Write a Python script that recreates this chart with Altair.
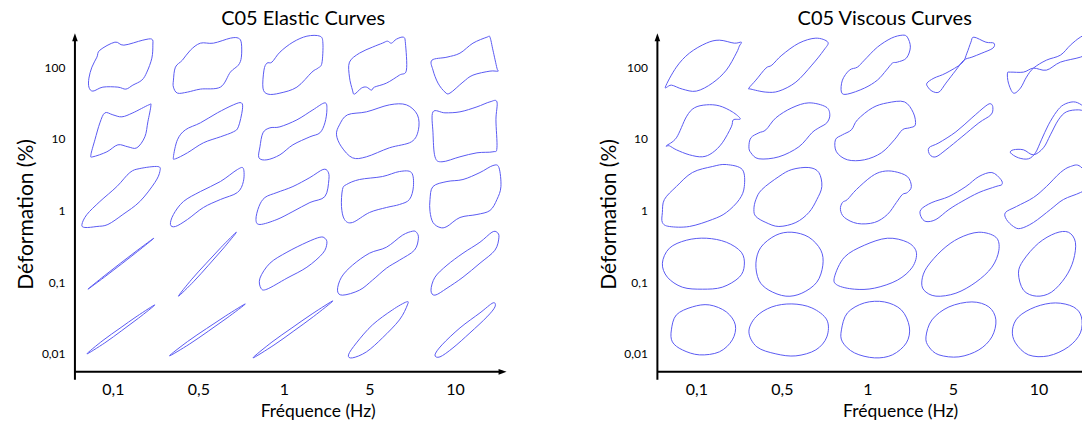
import json
import altair as alt
import pandas as pd

FREQ_LABELS = ["0,1", "0,5", "1", "5", "10"]
DEF_LABELS = ["0,01", "0,1", "1", "10", "100"]
TITLES = ["C05 Elastic Curves", "C05 Viscous Curves"]
X_TITLE = "Fréquence (Hz)"
Y_TITLE = "Déformation (%)"

# Each curve: outline points, as offsets (in reference pixels)
# from its (frequency tick, deformation tick) crossing: dx to the right, dy upward.
E_100 = [
    [(-13, 17), (2, 25), (11, 22), (30, 27), (39, 28), (40, 22), (39, 9), (34, -5), (29, -13), (20, -18),
     (13, -22), (5, -20), (-10, -20), (-20, -24), (-24, -20), (-24, -11), (-21, 0), (-16, 10)],
    [(-25, -13), (-23, 0), (-16, 7), (-8, 17), (2, 24), (15, 24), (32, 29), (40, 29), (43, 24), (43, 10),
     (40, 2), (32, -5), (22, -20), (2, -22), (-11, -25), (-21, -26), (-25, -20)],
    [(36, 31), (39, 24), (38, 4), (34, -1), (28, -5), (13, -20), (-4, -26), (-16, -27), (-21, -21), (-20, -3),
     (-17, 4), (-12, 5), (-4, 15), (9, 25), (23, 31)],
    [(-20, 5), (-10, 14), (3, 20), (13, 24), (18, 26), (22, 24), (27, 28), (34, 30), (36, 24), (37, -3),
     (30, -8), (17, -16), (5, -20), (2, -23), (-3, -20), (-8, -21), (-15, -27), (-17, -23), (-20, -10)],
    [(-23, 7), (-8, 10), (5, 14), (18, 24), (32, 30), (35, 30), (38, 17), (42, -1), (43, -4), (35, -4),
     (18, -8), (8, -15), (-5, -26), (-10, -25), (-17, -16), (-22, -3)],
]
E_10 = [
    [(-8, 26), (0, 24), (9, 22), (20, 26), (36, 34), (38, 33), (35, 17), (32, 2), (24, -9), (15, -8),
     (5, -6), (-6, -13), (-20, -18), (-22, -16), (-18, -1), (-13, 16)],
    [(-25, -18), (-21, -1), (-13, 9), (2, 16), (19, 26), (35, 34), (43, 36), (44, 29), (40, 12), (35, 7),
     (22, 2), (5, -4), (-11, -14), (-23, -20)],
    [(41, 36), (43, 29), (41, 16), (36, 6), (26, 2), (9, -6), (-4, -16), (-17, -21), (-25, -19), (-24, -8),
     (-21, 6), (-14, 11), (-4, 12), (13, 19), (29, 29)],
    [(-30, 14), (-22, 24), (-3, 27), (20, 34), (37, 34), (48, 24), (49, 9), (42, -3), (20, -9), (-3, -18),
     (-17, -19), (-28, -8), (-33, 4)],
    [(-22, 27), (-10, 26), (5, 27), (22, 32), (35, 37), (42, 37), (41, 19), (42, -9), (38, -13), (22, -14),
     (5, -18), (-13, -23), (-20, -18), (-22, 6)],
]
E_1 = [
    [(-31, -14), (-26, -4), (-13, 9), (4, 24), (17, 38), (27, 42), (45, 44), (47, 39), (42, 28), (27, 9),
     (10, -4), (-5, -14), (-16, -16), (-28, -17)],
    [(-28, -14), (-25, -4), (-15, 9), (2, 19), (22, 29), (39, 41), (45, 42), (45, 29), (39, 18), (22, 11),
     (5, 3), (-11, -9), (-23, -16)],
    [(44, 39), (45, 31), (41, 14), (26, 8), (9, -1), (-7, -9), (-24, -14), (-28, -9), (-25, 4), (-19, 13),
     (-7, 18), (9, 24), (26, 33), (39, 41)],
    [(-27, 21), (-23, 26), (-10, 31), (13, 34), (30, 39), (42, 38), (44, 24), (40, 11), (30, 6), (17, 3),
     (0, -2), (-17, -12), (-25, -9), (-28, 4)],
    [(-25, 11), (-22, 24), (-8, 29), (8, 31), (25, 38), (38, 45), (44, 43), (46, 24), (42, 11), (35, 0),
     (22, -4), (5, -7), (-8, -16), (-15, -17), (-22, -12), (-25, -1)],
]
E_01 = [
    [(-25, -7), (-8.8, 6.2), (7.6, 19.0), (24.2, 31.7), (41, 44), (24.8, 30.8), (8.4, 18.0), (-8.2, 5.3)],
    [(-20, -14), (-6.6, 3), (7.9, 19), (22.6, 34.8), (38, 50), (24.4, 33.2), (10.1, 17), (-4.4, 1)],
    [(41, 44), (43, 39), (39, 29), (23, 15), (3, 4), (-17, -7), (-23, -6), (-24, 4), (-14, 19), (3, 30),
     (23, 40), (36, 45)],
    [(47, 50), (49, 44), (45, 32), (30, 22), (17, 14), (3, 2), (-10, -8), (-27, -13), (-32, -8), (-28, 5),
     (-17, 17), (0, 29), (17, 35), (33, 47), (43, 51)],
    [(42, 50), (44, 45), (40, 32), (25, 19), (8, 5), (-8, -6), (-20, -13), (-24, -8), (-20, 5), (-8, 17),
     (8, 29), (25, 40), (37, 50)],
]
E_001 = [
    [(-26, 0), (-9.9, 13.5), (7.1, 25.7), (24.3, 37.8), (42, 49), (25.7, 35.8), (8.9, 23.3), (-8.1, 11)],
    [(-29, -2), (-10.9, 12.3), (8.1, 25.3), (27.3, 38), (47, 50), (28.7, 36), (9.9, 22.7), (-9.1, 9.7)],
    [(-31, -4), (-12, 11.8), (8, 26), (28.2, 40), (49, 53), (29.8, 37.5), (10, 23), (-10, 8.8)],
    [(37, 52), (38, 49), (30, 34), (13, 16), (-3, 2), (-17, -4), (-21, -1), (-13, 11), (3, 29), (23, 44)],
    [(38, 51), (40, 47), (32, 37), (15, 21), (-2, 6), (-15, -3), (-20, -1), (-13, 9), (5, 26), (25, 41)],
]

V_100 = [
    [(-31, -20), (-20, 0), (-7, 14), (10, 24), (23, 27), (38, 24), (45, 25), (43, 21), (40, 14), (30, -3),
     (16, -16), (0, -24), (-14, -22), (-25, -18)],
    [(-33, -21), (-26, -13), (-16, -1), (-10, 2), (0, 12), (17, 24), (34, 29), (46, 25), (42, 17), (30, 2),
     (14, -15), (-3, -24), (-16, -25), (-31, -22)],
    [(40, 30), (43, 20), (39, 9), (30, 5), (25, 4), (19, -3), (10, -13), (-3, -21), (-20, -27), (-26, -25),
     (-25, -13), (-18, -3), (-10, 0), (-3, 7), (10, 20), (24, 29), (35, 32)],
    [(21, 30), (33, 25), (41, 24), (40, 19), (29, 14), (19, 10), (11, 7), (3, -3), (-7, -16), (-14, -25),
     (-21, -24), (-25, -20), (-26, -16), (-19, -11), (-7, -6), (9, 4), (14, 14), (18, 25)],
    [(-31, -6), (-30, -16), (-25, -26), (-18, -21), (-12, -10), (-5, -1), (8, 7), (22, 12), (32, 22), (42, 30),
     (52, 34), (58, 27), (50, 15), (42, 10), (22, 5), (8, -3), (-5, -1), (-15, -5), (-28, -5)],
]
V_10 = [
    [(-30, -7), (-20, 1), (-10, 22), (-2, 31), (10, 34), (23, 33), (36, 27), (44, 20), (37, 19), (35, 12),
     (26, -4), (16, -14), (6, -18), (-7, -16), (-20, -11), (-27, -7)],
    [(-33, -8), (-31, 1), (-23, 6), (-16, 9), (-6, 21), (10, 31), (27, 36), (44, 32), (48, 24), (45, 16),
     (37, 11), (30, 6), (17, -8), (-3, -18), (-23, -20), (-31, -14)],
    [(37, 37), (46, 26), (48, 14), (42, 11), (35, 9), (27, -1), (14, -14), (-3, -21), (-20, -21), (-31, -13),
     (-32, -1), (-25, 4), (-16, 9), (-10, 19), (5, 31), (20, 36)],
    [(38, 35), (40, 31), (38, 24), (26, 16), (9, 2), (-7, -11), (-17, -18), (-23, -16), (-24, -9), (-14, -4),
     (3, 7), (19, 21), (33, 33)],
    [(-28, -14), (-20, -19), (-10, -20), (-3, -14), (3, -1), (10, 14), (18, 27), (25, 34), (35, 37), (43, 34),
     (50, 27), (40, 29), (28, 27), (20, 19), (12, 4), (5, -9), (-5, -16), (-15, -11), (-25, -11)],
]
V_1 = [
    [(-32, 11), (-20, 24), (-4, 38), (16, 44), (30, 46), (46, 41), (48, 24), (43, 11), (30, -2), (16, -9),
     (-7, -16), (-27, -16), (-34, -12), (-34, -2)],
    [(-26, 11), (-20, 21), (-3, 34), (10, 41), (27, 43), (37, 38), (40, 24), (35, 11), (27, -2), (14, -12),
     (-3, -16), (-16, -12), (-26, -6), (-28, 1)],
    [(27, 39), (40, 34), (44, 24), (40, 18), (35, 16), (29, 8), (20, -4), (7, -12), (-10, -13), (-23, -7),
     (-27, 1), (-25, 8), (-20, 11), (-11, 21), (4, 34), (15, 39)],
    [(48, 31), (49, 26), (43, 24), (26, 18), (9, 9), (-4, 1), (-17, -9), (-27, -11), (-32, -6), (-32, 1),
     (-21, 8), (-4, 14), (13, 24), (26, 34), (39, 38)],
    [(42, 44), (32, 44), (22, 38), (8, 24), (-5, 13), (-22, 4), (-33, -2), (-32, -9), (-25, -16), (-18, -18),
     (-5, -12), (12, 1), (25, 11), (42, 18), (55, 26)],
]
V_01 = [
    [(-34, 19), (-27, 34), (-10, 42), (10, 44), (30, 40), (45, 30), (48, 17), (43, 5), (26, -5), (6, -7),
     (-14, -5), (-29, 5)],
    [(-26, 19), (-21, 35), (-6, 47), (10, 50), (27, 45), (39, 32), (41, 17), (35, 0), (20, -11), (4, -14),
     (-13, -8), (-23, 2)],
    [(-33, 5), (-23, 25), (-3, 37), (20, 44), (40, 40), (49, 30), (45, 15), (30, 2), (7, -6), (-13, -7),
     (-30, -3)],
    [(-31, 2), (-26, 15), (-11, 32), (6, 44), (26, 50), (43, 45), (46, 32), (39, 15), (23, 0), (3, -11),
     (-17, -14), (-29, -8)],
    [(-20, 9), (-15, 22), (0, 39), (17, 49), (30, 50), (37, 40), (35, 22), (27, 5), (13, -10), (-2, -14),
     (-15, -8)],
]
V_001 = [
    [(-25, 24), (-20, 39), (-4, 47), (13, 49), (30, 42), (39, 29), (36, 14), (23, 2), (3, -1), (-14, 4),
     (-24, 12)],
    [(-33, 22), (-26, 37), (-10, 47), (10, 50), (30, 46), (45, 34), (45, 17), (34, 4), (14, -2), (-6, 0),
     (-25, 7)],
    [(-26, 24), (-20, 41), (-3, 51), (17, 52), (34, 44), (42, 27), (39, 11), (25, -1), (7, -4), (-13, 1),
     (-25, 12)],
    [(-27, 17), (-21, 34), (-4, 47), (19, 52), (36, 47), (43, 34), (39, 17), (26, 4), (6, -3), (-14, -1),
     (-24, 7)],
    [(-26, 24), (-20, 37), (-3, 47), (17, 51), (35, 47), (43, 37), (42, 21), (30, 7), (10, -2), (-10, -1),
     (-23, 11)],
]

# deformation row index (0 = "0,01" ... 4 = "100") for each list
ELASTIC = [(4, E_100), (3, E_10), (2, E_1), (1, E_01), (0, E_001)]
VISCOUS = [(4, V_100), (3, V_10), (2, V_1), (1, V_01), (0, V_001)]

# scale calibration: reference pixels per category step
PX_PER_FREQ = 85.6
PX_PER_DEF = 71.75

BLUE = "#5a5af2"
FONT = "Lato"


def to_frame(rows):
    recs = []
    for r, row in rows:
        for c, pts in enumerate(row):
            cid = f"{c}-{r}"
            for k, (dx, dy) in enumerate(pts):
                recs.append({"curve": cid, "k": k,
                             "x": c + dx / PX_PER_FREQ,
                             "y": r + dy / PX_PER_DEF})
    return pd.DataFrame(recs)


def label_expr(labels):
    return json.dumps(labels) + "[datum.value]"


ONE = pd.DataFrame({"k": [0]})


def panel(df, title, xdom, width, height, title_dx, x_arrow):
    xs = alt.Scale(domain=xdom, nice=False, zero=False)
    ys = alt.Scale(domain=[-0.3624, 4.5436], nice=False, zero=False)
    curves = alt.Chart(df).mark_line(
        interpolate="cardinal-closed", color=BLUE, strokeWidth=1, clip=True
    ).encode(
        x=alt.X("x:Q", scale=xs, axis=alt.Axis(
            values=[0, 1, 2, 3, 4], labelExpr=label_expr(FREQ_LABELS),
            domain=False, ticks=False, grid=False, labelFontSize=16, labelPadding=2,
            labelFont=FONT, labelColor="black", title=X_TITLE, titleFont=FONT,
            titleFontSize=17.5, titleFontWeight="normal", titleColor="black",
            titleX=243, titleY=37, titleBaseline="alphabetic", titleAlign="center")),
        y=alt.Y("y:Q", scale=ys, axis=alt.Axis(
            values=[0, 1, 2, 3, 4], labelExpr=label_expr(DEF_LABELS),
            domain=False, ticks=False, grid=False, labelFontSize=12, labelPadding=10,
            labelFont=FONT, labelColor="black", title=Y_TITLE, titleFont=FONT,
            titleFontSize=21, titleFontWeight="normal", titleColor="black",
            titleAngle=270, titleX=-42, titleY=186, titleBaseline="alphabetic",
            titleAlign="center")),
        detail="curve:N",
        order=alt.Order("k:Q"),
    )
    y_line = alt.Chart(ONE).mark_rule(color="black", strokeWidth=2).encode(
        x=alt.value(0), y=alt.value(9), y2=alt.value(height))
    y_head = alt.Chart(ONE).mark_point(
        shape="M0,-1L0.7,1L-0.7,1Z", filled=True, size=64, color="black", opacity=1
    ).encode(x=alt.value(0), y=alt.value(9))
    x_end = 428 if x_arrow else width
    x_line = alt.Chart(ONE).mark_rule(color="black", strokeWidth=2).encode(
        x=alt.value(0), x2=alt.value(x_end), y=alt.value(height - 8))
    layers = [curves, y_line, y_head, x_line]
    if x_arrow:
        layers.append(alt.Chart(ONE).mark_point(
            shape="M1,0L-1,0.7L-1,-0.7Z", filled=True, size=64, color="black", opacity=1
        ).encode(x=alt.value(x_end), y=alt.value(height - 8)))
    return alt.layer(*layers).properties(
        width=width, height=height,
        title=alt.TitleParams(title, font=FONT, fontSize=20, fontWeight="normal", color="black",
                              anchor="middle", frame="group", dx=title_dx, offset=-17,
                              baseline="alphabetic"),
    )


left = panel(to_frame(ELASTIC), TITLES[0], [-0.4439, 4.6963], 440, 352, 8.5, True)
right = panel(to_frame(VISCOUS), TITLES[1], [-0.4556, 4.5093], 425, 352, 15, False)

chart = alt.hconcat(left, right, spacing=143, bounds="flush").properties(
    padding={"left": 16, "top": 9, "right": 0, "bottom": 0}
).configure(font=FONT).configure_view(stroke=None)

chart.save("out.html", embed_options={"renderer": "svg", "actions": False})
